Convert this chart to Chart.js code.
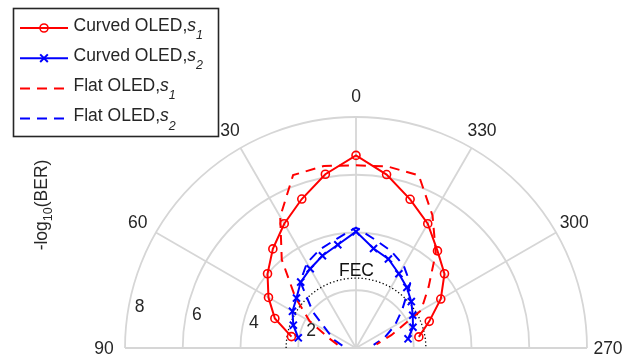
<!DOCTYPE html>
<html>
<head>
<meta charset="utf-8">
<script src="https://cdn.jsdelivr.net/npm/chart.js@4/dist/chart.umd.min.js"></script>
<style>
html,body{margin:0;padding:0;background:#fff;overflow:hidden}
#wrap{position:relative;width:643px;height:361px;overflow:hidden;background:#fff}
canvas{display:block}
</style>
</head>
<body>
<div id="wrap"><canvas id="c" width="643" height="600" style="width:643px;height:600px"></canvas></div>
<script>
// ---- data (theta in degrees, 0 = top, positive = towards the left) ----
const thetaDeg  = [80, 70, 60, 50, 40, 30, 20, 10, 0, -10, -20, -30, -40, -50, -60, -70, -80];
const curvedS1  = [2.27, 2.99, 3.50, 4.00, 4.48, 4.97, 5.49, 6.11, 6.67, 6.10, 5.48, 4.97, 4.39, 4.00, 3.39, 2.70, 2.21];
const curvedS2  = [2.03, 2.31, 2.54, 2.69, 2.98, 3.17, 3.40, 3.63, 4.03, 3.50, 3.28, 2.97, 2.74, 2.50, 2.27, 2.10, 1.83];
const flatS1    = [0.65, 1.00, 1.85, 2.75, 4.00, 5.25, 6.37, 6.40, 6.33, 6.38, 6.36, 5.30, 4.30, 3.28, 2.60, 1.30, 0.72];
const flatS2    = [0.48, 0.80, 1.13, 1.95, 3.00, 3.40, 3.64, 3.84, 4.17, 3.81, 3.57, 3.30, 2.92, 2.10, 1.55, 1.05, 0.62];
const seriesNames = ['Curved OLED,', 'Curved OLED,', 'Flat OLED,', 'Flat OLED,'];
const seriesSubs  = ['1', '2', '1', '2'];
const thetaTickDeg    = [90, 60, 30, 0, -30, -60, -90];
const thetaTickLabels = ['90', '60', '30', '0', '330', '300', '270'];
const rTicks      = [2, 4, 6, 8];
const rTickLabels = ['2', '4', '6', '8'];
const rMin = 0, rMax = 8;
const fecLevel = 2.42;
const fecLabel = 'FEC';
const rTitleMain = ['-log', '(BER)'];
const rTitleSub = '10';

// ---- helpers ----
const STEP = 10, N = 360 / STEP;
const idxOf = t => ((((-t / STEP) % N) + N) % N);
const labels = Array.from({length: N}, (_, i) => String((360 - i * STEP) % 360));
function toRadar(vals) {
  const arr = new Array(N).fill(null);
  thetaDeg.forEach((t, k) => { arr[idxOf(t)] = vals[k]; });
  return arr;
}
const RED = '#ff0000', BLUE = '#0000ff', GRID = '#d6d6d6', TXT = '#262626';
const FONT = '"Liberation Sans", Arial, Helvetica, sans-serif';
const FS = 17.5;
const DASH = [10, 7];
const CIRCLE_R = 4, CROSS_R = 5;

const styles = [
  {color: RED, dash: [], marker: 'circle'},
  {color: BLUE, dash: [], marker: 'crossRot'},
  {color: RED, dash: DASH, marker: null},
  {color: BLUE, dash: DASH, marker: null}
];
const seriesData = [curvedS1, curvedS2, flatS1, flatS2];

const datasets = seriesData.map((vals, i) => {
  const st = styles[i];
  return {
    label: seriesNames[i] + 's' + seriesSubs[i],
    data: toRadar(vals),
    borderColor: st.color,
    backgroundColor: 'rgba(0,0,0,0)',
    borderWidth: 2,
    borderDash: st.dash,
    fill: false,
    spanGaps: false,
    pointStyle: st.marker || 'circle',
    pointRadius: st.marker ? (st.marker === 'circle' ? CIRCLE_R : CROSS_R) : 0,
    pointBorderWidth: st.marker === 'circle' ? 1.6 : 2,
    pointBorderColor: st.color,
    pointBackgroundColor: 'rgba(0,0,0,0)',
    pointHoverRadius: 0,
    order: i
  };
});

function drawMarker(ctx, kind, x, y, color) {
  ctx.save();
  ctx.strokeStyle = color;
  ctx.setLineDash([]);
  if (kind === 'circle') {
    ctx.lineWidth = 1.6;
    ctx.beginPath(); ctx.arc(x, y, CIRCLE_R, 0, 2 * Math.PI); ctx.stroke();
  } else if (kind === 'crossRot') {
    const d = CROSS_R * Math.SQRT1_2 + 0.3;
    ctx.lineWidth = 2;
    ctx.beginPath();
    ctx.moveTo(x - d, y - d); ctx.lineTo(x + d, y + d);
    ctx.moveTo(x - d, y + d); ctx.lineTo(x + d, y - d);
    ctx.stroke();
  }
  ctx.restore();
}

const polarDecor = {
  id: 'polarDecor',
  beforeDatasetsDraw(chart) {
    const s = chart.scales.r, ctx = chart.ctx;
    const xc = s.xCenter, yc = s.yCenter;
    ctx.save();
    ctx.strokeStyle = GRID;
    ctx.lineWidth = 1.8;
    rTicks.forEach(v => {
      const r = s.getDistanceFromCenterForValue(v);
      ctx.beginPath(); ctx.arc(xc, yc, r, Math.PI, 2 * Math.PI); ctx.stroke();
    });
    thetaTickDeg.forEach(t => {
      const p = s.getPointPositionForValue(idxOf(t), rMax);
      ctx.beginPath(); ctx.moveTo(xc, yc); ctx.lineTo(p.x, p.y); ctx.stroke();
    });
    // FEC threshold
    ctx.strokeStyle = '#000';
    ctx.lineWidth = 1.3;
    ctx.setLineDash([1.3, 2.3]);
    const rf = s.getDistanceFromCenterForValue(fecLevel);
    ctx.beginPath(); ctx.arc(xc, yc, rf, Math.PI, 2 * Math.PI); ctx.stroke();
    ctx.restore();
  },
  afterDatasetsDraw(chart) {
    const s = chart.scales.r, ctx = chart.ctx;
    const xc = s.xCenter, yc = s.yCenter;
    ctx.save();
    ctx.fillStyle = TXT;
    ctx.font = FS + 'px ' + FONT;
    ctx.textAlign = 'center';
    ctx.textBaseline = 'middle';
    // angle labels
    thetaTickDeg.forEach((t, k) => {
      const p = s.getPointPosition(idxOf(t), s.drawingArea + 21);
      ctx.fillText(thetaTickLabels[k], p.x, p.y + 1);
    });
    // radial tick labels (placed along ~82 deg)
    const a = 82.2 * Math.PI / 180;
    rTicks.forEach((v, k) => {
      const d = s.getDistanceFromCenterForValue(v);
      ctx.fillText(rTickLabels[k], xc - d * Math.sin(a) + 12.4, yc - d * Math.cos(a) - 9.3);
    });
    // FEC label
    const pf = s.getPointPositionForValue(0, fecLevel);
    ctx.fillStyle = '#111';
    ctx.fillText(fecLabel, pf.x + 0.5, pf.y - 7);

    // radial axis title (rotated)
    ctx.fillStyle = TXT;
    ctx.translate(47, 205);
    ctx.rotate(-Math.PI / 2);
    ctx.textAlign = 'left';
    ctx.textBaseline = 'alphabetic';
    const mainFont = FS + 'px ' + FONT, subFont = '12.5px ' + FONT;
    ctx.font = mainFont; const w1 = ctx.measureText(rTitleMain[0]).width, w3 = ctx.measureText(rTitleMain[1]).width;
    ctx.font = subFont; const w2 = ctx.measureText(rTitleSub).width;
    let x0 = -(w1 + w2 + w3) / 2;
    ctx.font = mainFont; ctx.fillText(rTitleMain[0], x0, 0);
    ctx.font = subFont; ctx.fillText(rTitleSub, x0 + w1, 4.5);
    ctx.font = mainFont; ctx.fillText(rTitleMain[1], x0 + w1 + w2, 0);
    ctx.restore();

    // legend
    ctx.save();
    const bx = 13.5, by = 8.5, bw = 205, bh = 128;
    ctx.fillStyle = '#fff';
    ctx.fillRect(bx, by, bw, bh);
    ctx.strokeStyle = TXT;
    ctx.lineWidth = 1.6;
    ctx.strokeRect(bx, by, bw, bh);
    for (let i = 0; i < 4; i++) {
      const st = styles[i];
      const ly = 28 + 30.2 * i;
      ctx.strokeStyle = st.color;
      ctx.lineWidth = 2;
      ctx.setLineDash(st.dash);
      ctx.beginPath(); ctx.moveTo(20, ly); ctx.lineTo(68, ly); ctx.stroke();
      ctx.setLineDash([]);
      if (st.marker) drawMarker(ctx, st.marker, 44, ly, st.color);
      const base = ly + 2.5;
      ctx.fillStyle = TXT;
      ctx.textAlign = 'left';
      ctx.textBaseline = 'alphabetic';
      ctx.font = FS + 'px ' + FONT;
      ctx.fillText(seriesNames[i], 73.5, base);
      let x = 73.5 + ctx.measureText(seriesNames[i]).width;
      ctx.font = 'italic ' + FS + 'px ' + FONT;
      ctx.fillText('s', x, base);
      x += ctx.measureText('s').width;
      ctx.font = 'italic 12.5px ' + FONT;
      ctx.fillText(seriesSubs[i], x, base + 8.5);
    }
    ctx.restore();
  }
};

new Chart(document.getElementById('c').getContext('2d'), {
  type: 'radar',
  data: {labels, datasets},
  options: {
    responsive: false,
    animation: false,
    devicePixelRatio: 1,
    events: [],
    layout: {padding: {left: 125, top: 117, right: 56, bottom: 21}},
    plugins: {legend: {display: false}, tooltip: {enabled: false}, title: {display: false}},
    elements: {line: {tension: 0, fill: false}},
    scales: {
      r: {
        min: rMin, max: rMax, startAngle: 0,
        ticks: {display: false, stepSize: 2},
        grid: {display: false},
        angleLines: {display: false},
        pointLabels: {display: false}
      }
    }
  },
  plugins: [polarDecor]
});
</script>
</body>
</html>
